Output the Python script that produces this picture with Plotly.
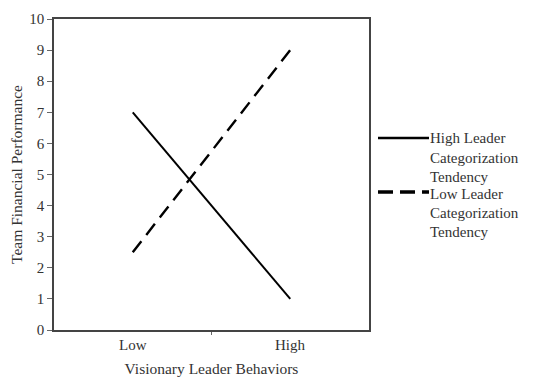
import plotly.graph_objects as go

categories = ["Low", "High"]
x_pos = [1, 2]
high_lct = [7, 1]
low_lct = [2.5, 9]
series_lines = [["High Leader", "Categorization", "Tendency"],
                ["Low Leader", "Categorization", "Tendency"]]
y_ticks = list(range(0, 11))

FONT = "Liberation Serif"
TXT = "#333333"

# plot area in screenshot pixels (page has ~7px body offset)
PL, PT, PR, PB = 53, 18, 368, 329
OFF = 7
W, H = 535, 391
PW, PH = PR - PL, PB - PT


def px(x):
    return (x - PL) / PW


def py(y):
    return (PB - y) / PH


fig = go.Figure()
fig.add_trace(go.Scatter(x=x_pos, y=high_lct, mode="lines",
                         line=dict(color="black", width=2), showlegend=False))
fig.add_trace(go.Scatter(x=x_pos, y=low_lct, mode="lines",
                         line=dict(color="black", width=2.4, dash="14px,8px"), showlegend=False))

# category labels
for xv, lab in zip(x_pos, categories):
    fig.add_annotation(x=xv, y=0, xref="x", yref="y", text=lab, showarrow=False,
                       yshift=-15, font=dict(family=FONT, size=15, color=TXT))

# manual legend
sym_y = [137, 191]
text_y = [[137, 157, 176], [193, 212, 231]]
for i in range(2):
    fig.add_shape(type="line", xref="paper", yref="paper",
                  x0=px(377), x1=px(428), y0=py(sym_y[i]), y1=py(sym_y[i]),
                  line=dict(color="black", width=2.5 if i == 0 else 3.5,
                            dash="solid" if i == 0 else "15px,7px"))
    for t, yc in zip(series_lines[i], text_y[i]):
        fig.add_annotation(xref="paper", yref="paper", x=px(427), y=py(yc), text=t,
                           showarrow=False, xanchor="left", yanchor="middle", align="left",
                           font=dict(family=FONT, size=15, color=TXT))

fig.update_layout(
    width=W, height=H,
    margin=dict(l=PL - OFF, r=W - (PR - OFF), t=PT - OFF, b=H - (PB - OFF)),
    plot_bgcolor="white", paper_bgcolor="white",
    font=dict(family=FONT, size=15, color=TXT),
    showlegend=False,
    xaxis=dict(range=[0.5, 2.5], tickvals=[1.5], ticktext=[""], ticks="outside",
               ticklen=3, tickcolor="#666", showgrid=False, zeroline=False,
               showline=True, linecolor="#444", linewidth=1.5, mirror=True,
               automargin=False,
               title=dict(text="Visionary Leader Behaviors", standoff=26,
                          font=dict(family=FONT, size=15.5, color=TXT))),
    yaxis=dict(range=[0, 10], tickvals=y_ticks, ticks="outside", ticklen=5,
               tickcolor="#666", showgrid=False, zeroline=False,
               showline=True, linecolor="#444", linewidth=1.5, mirror=True,
               automargin=False,
               tickfont=dict(family=FONT, size=15, color=TXT),
               title=dict(text="Team Financial Performance", standoff=4,
                          font=dict(family=FONT, size=15.5, color=TXT))),
)

fig.write_html("out.html")
